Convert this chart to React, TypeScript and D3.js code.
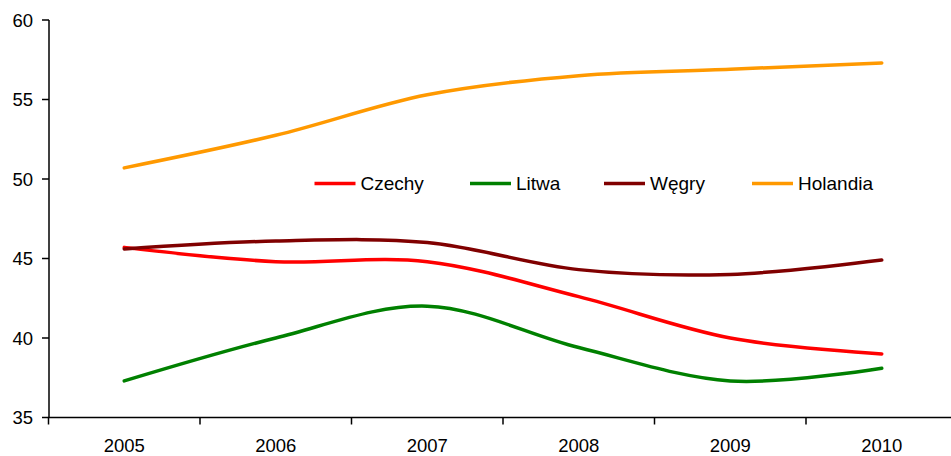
import React from "react";
import * as d3 from "d3";

const years = ["2005", "2006", "2007", "2008", "2009", "2010"];
const czechy = [45.7, 44.8, 44.8, 42.6, 40.0, 39.0];
const litwa = [37.3, 40.0, 42.0, 39.4, 37.3, 38.1];
const wegry = [45.6, 46.1, 46.0, 44.3, 44.0, 44.9];
const holandia = [50.7, 52.75, 55.3, 56.5, 56.9, 57.3];
const yTicks = [35, 40, 45, 50, 55, 60];

const seriesNames = ["Czechy", "Litwa", "Węgry", "Holandia"];
const seriesValues = [czechy, litwa, wegry, holandia];
const seriesColors = ["#FF0000", "#008000", "#800000", "#FF9900"];

const W = 951;
const H = 456;
const FONT = "'Liberation Sans', Arial, sans-serif";

export default function App() {
  const x0 = 48.5;
  const band = 151.5;
  const x = d3.scaleBand<string>().domain(years).range([x0, x0 + band * years.length]);
  const y = d3.scaleLinear().domain([35, 60]).range([417.5, 20]);
  const cx = (i: number) => (x(years[i]) as number) + x.bandwidth() / 2;

  const line = d3
    .line<number>()
    .x((_, i) => cx(i))
    .y((d) => y(d))
    .curve(d3.curveCatmullRom.alpha(0));

  const legendX = [314.5, 470, 604, 752];
  const legendY = 183.5;

  return (
    <div style={{ position: "absolute", left: 0, top: 0 }}>
      <svg width={W} height={H} style={{ display: "block", background: "#fff" }}>
        <g fontFamily={FONT}>
          {/* y axis */}
          <line x1={49} x2={49} y1={y(60)} y2={y(35)} stroke="#000" strokeWidth={1.5} />
          {yTicks.map((t) => (
            <g key={t}>
              <line x1={42} x2={49} y1={y(t)} y2={y(t)} stroke="#000" strokeWidth={1.5} />
              <text x={33} y={y(t)} dy="0.36em" textAnchor="end" fontSize={18.5} fill="#000">
                {t}
              </text>
            </g>
          ))}
          {/* x axis */}
          <line x1={48.5} x2={W} y1={y(35)} y2={y(35)} stroke="#000" strokeWidth={1.5} />
          {years.map((yr, i) => (
            <g key={yr}>
              <line
                x1={(x(yr) as number)}
                x2={(x(yr) as number)}
                y1={y(35)}
                y2={y(35) + 7}
                stroke="#000"
                strokeWidth={1.5}
              />
              <text x={cx(i)} y={452} textAnchor="middle" fontSize={18.5} fill="#000">
                {yr}
              </text>
            </g>
          ))}
          <line x1={x0 + band * 6} x2={x0 + band * 6} y1={y(35)} y2={y(35) + 7} stroke="#000" strokeWidth={1.5} />

          {/* series */}
          {seriesValues.map((vals, si) => (
            <path
              key={seriesNames[si]}
              d={line(vals) as string}
              fill="none"
              stroke={seriesColors[si]}
              strokeWidth={3.5}
              strokeLinecap="round"
            />
          ))}

          {/* legend */}
          {seriesNames.map((name, si) => (
            <g key={name} transform={`translate(${legendX[si]},${legendY})`}>
              <line x1={0} x2={41} y1={0} y2={0} stroke={seriesColors[si]} strokeWidth={3.5} />
              <text x={46} y={0} dy="0.36em" fontSize={19} fill="#000">
                {name}
              </text>
            </g>
          ))}
        </g>
      </svg>
    </div>
  );
}
